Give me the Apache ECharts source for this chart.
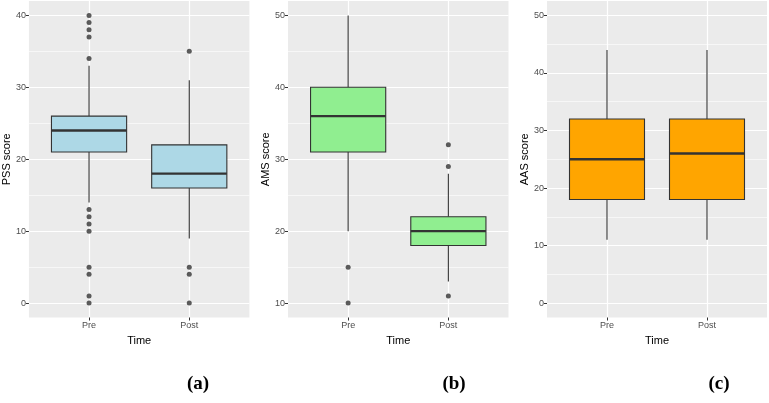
<!DOCTYPE html>
<html>
<head>
<meta charset="utf-8">
<script src="https://cdn.jsdelivr.net/npm/echarts@6/dist/echarts.min.js"></script>
<style>
  html, body { margin: 0; padding: 0; background: #fff; }
  #main { width: 769px; height: 403px; }
</style>
</head>
<body>
<div id="main"></div>
<script>
var categories = ['Pre', 'Post'];

// [lower whisker, Q1, median, Q3, upper whisker]
var pssBox = [[14, 21, 24, 26, 33], [9, 16, 18, 22, 31]];
var pssOutliers = [[40, 39, 38, 37, 34, 13, 12, 11, 10, 5, 4, 1, 0], [35, 5, 4, 0]];
var pssTicks = [0, 10, 20, 30, 40];

var amsBox = [[20, 31, 36, 40, 50], [13, 18, 20, 22, 28]];
var amsOutliers = [[15, 10], [32, 29, 11]];
var amsTicks = [10, 20, 30, 40, 50];

var aasBox = [[11, 18, 25, 32, 44], [11, 18, 26, 32, 44]];
var aasOutliers = [[], []];
var aasTicks = [0, 10, 20, 30, 40, 50];

var panelLabels = ['(a)', '(b)', '(c)'];

var myChart = echarts.init(document.getElementById('main'));

var font = 'Liberation Sans, Arial, sans-serif';

var panels = [
    {name: 'PSS score', box: pssBox, out: pssOutliers, ticks: pssTicks, min: -2, max: 42, color: '#ADD8E6',
        grid: {left: 28, right: 519.6, top: 1, bottom: 85.5}, labelX: 198},
    {name: 'AMS score', box: amsBox, out: amsOutliers, ticks: amsTicks, min: 8, max: 52, color: '#90EE90',
        grid: {left: 288, right: 260.5, top: 1, bottom: 85.5}, labelX: 454},
    {name: 'AAS score', box: aasBox, out: aasOutliers, ticks: aasTicks, min: -2.5, max: 52.5, color: '#FFA500',
        grid: {left: 547, right: 2, top: 1, bottom: 85.5}, labelX: 719}
];

function midpoints(ticks) {
    var res = [];
    for (var i = 0; i < ticks.length - 1; i++) {
        res.push({yAxis: (ticks[i] + ticks[i + 1]) / 2});
    }
    return res;
}

function boxRenderer(color) {
    return function (params, api) {
        var x = api.value(0);
        var lo = api.coord([x, api.value(1)]);
        var q1 = api.coord([x, api.value(2)]);
        var med = api.coord([x, api.value(3)]);
        var q3 = api.coord([x, api.value(4)]);
        var hi = api.coord([x, api.value(5)]);
        var half = api.size([0.75, 0])[0] / 2;
        var line = {stroke: '#333333', lineWidth: 1.1};
        return {
            type: 'group',
            children: [
                {type: 'line', shape: {x1: lo[0], y1: lo[1], x2: q1[0], y2: q1[1]}, style: line},
                {type: 'line', shape: {x1: q3[0], y1: q3[1], x2: hi[0], y2: hi[1]}, style: line},
                {type: 'rect', shape: {x: q3[0] - half, y: q3[1], width: half * 2, height: q1[1] - q3[1]},
                    style: {fill: color, stroke: '#333333', lineWidth: 1.1}},
                {type: 'line', shape: {x1: med[0] - half, y1: med[1], x2: med[0] + half, y2: med[1]},
                    style: {stroke: '#333333', lineWidth: 2.3}}
            ]
        };
    };
}

var grids = [], xAxes = [], yAxes = [], series = [], graphics = [];

panels.forEach(function (p, k) {
    grids.push({
        left: p.grid.left, right: p.grid.right, top: p.grid.top, bottom: p.grid.bottom,
        show: true, backgroundColor: '#EBEBEB', borderWidth: 0
    });
    xAxes.push({
        type: 'value', gridIndex: k, min: -0.6, max: 1.6,
        name: 'Time', nameLocation: 'middle', nameGap: 13,
        nameTextStyle: {color: '#000', fontSize: 11, fontFamily: font},
        axisLine: {show: false, onZero: false},
        axisTick: {show: true, length: 3, lineStyle: {color: '#333'}, customValues: [0, 1]},
        axisLabel: {
            customValues: [0, 1], margin: 4, color: '#4D4D4D', fontSize: 9, fontFamily: font,
            formatter: function (v) { return categories[Math.round(v)]; }
        },
        splitLine: {show: true, lineStyle: {color: '#FFFFFF', width: 1.2}}
    });
    yAxes.push({
        type: 'value', gridIndex: k, min: p.min, max: p.max,
        name: p.name, nameLocation: 'middle', nameRotate: 90, nameGap: 15,
        nameTextStyle: {color: '#000', fontSize: 11, fontFamily: font},
        axisLine: {show: false, onZero: false},
        axisTick: {show: true, length: 3, lineStyle: {color: '#333'}, customValues: p.ticks},
        axisLabel: {customValues: p.ticks, margin: 3, color: '#4D4D4D', fontSize: 9, fontFamily: font},
        splitLine: {show: true, lineStyle: {color: '#FFFFFF', width: 1.2}}
    });
    series.push({
        type: 'custom', xAxisIndex: k, yAxisIndex: k, silent: true,
        renderItem: boxRenderer(p.color),
        encode: {x: 0, y: [1, 2, 3, 4, 5]},
        data: p.box.map(function (b, i) { return [i].concat(b); }),
        markLine: {
            silent: true, symbol: 'none', z: 1, label: {show: false},
            lineStyle: {color: '#FFFFFF', type: 'solid', width: 0.6},
            data: midpoints(p.ticks)
        }
    });
    var pts = [];
    p.out.forEach(function (vals, i) {
        vals.forEach(function (v) { pts.push([i, v]); });
    });
    series.push({
        type: 'scatter', xAxisIndex: k, yAxisIndex: k, silent: true,
        symbolSize: 5, itemStyle: {color: '#333333'},
        data: pts
    });
    graphics.push({
        type: 'text', x: p.labelX, y: 384,
        style: {text: panelLabels[k], fill: '#000', font: 'bold 19px "Liberation Serif", "Times New Roman", serif',
            textAlign: 'center', textVerticalAlign: 'middle'}
    });
});

myChart.setOption({
    animation: false,
    grid: grids,
    xAxis: xAxes,
    yAxis: yAxes,
    series: series,
    graphic: graphics
});
</script>
</body>
</html>
